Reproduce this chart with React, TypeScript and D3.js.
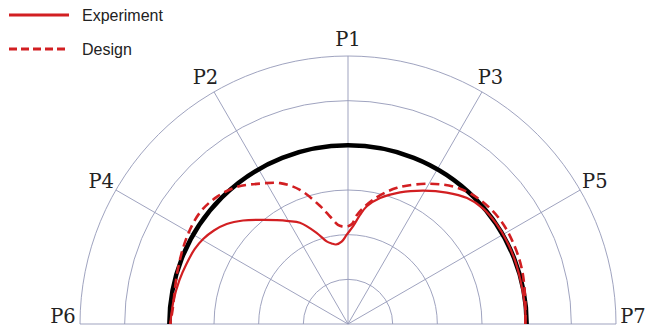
import React from "react";
import * as d3 from "d3";

const W = 648;
const H = 328;

// Ring values (radial units) and spoke angles (degrees, counter-clockwise from P7)
const ringValues = [1, 2, 3, 4, 5, 6];
const spokeAngles = [0, 30, 60, 90, 120, 150, 180];
const spokeLabels = ["P7", "P5", "P3", "P1", "P2", "P4", "P6"];

// Reference (black) circle radius
const referenceRadius = 4;

// Experiment (solid red)
const expAngles = [0, 4.5, 12.1, 21, 27.9, 34.1, 40.5, 46.6, 53.1, 60.5, 68.4, 75.7, 80.9, 83.7, 86.9, 90.8, 94.4, 98.6, 101.5, 104.5, 109, 115.4, 120, 124.5, 130.2, 135.4, 140.5, 145.1, 149.6, 154, 159.8, 165.4, 172.2, 180];
const expR = [3.97, 3.98, 3.98, 4.0, 4.01, 4.01, 3.98, 3.88, 3.68, 3.43, 3.17, 2.91, 2.67, 2.46, 2.2, 2.0, 1.85, 1.8, 1.84, 1.91, 2.16, 2.51, 2.66, 2.82, 3.05, 3.3, 3.52, 3.66, 3.76, 3.82, 3.86, 3.9, 3.94, 3.98];

// Design (dashed red)
const designAngles = [0, 6.8, 17.2, 26.1, 34.4, 43.2, 51.3, 59.6, 70.2, 78.6, 85.3, 87.7, 90, 93.5, 95.8, 99.5, 103.4, 109.7, 115.7, 122.1, 129, 135.9, 143.1, 151.6, 162.4, 175.4, 180];
const designR = [3.97, 4.0, 4.08, 4.12, 4.13, 4.06, 3.91, 3.64, 3.24, 2.84, 2.45, 2.24, 2.19, 2.19, 2.23, 2.44, 2.72, 3.19, 3.5, 3.71, 3.95, 4.09, 4.15, 4.1, 4.0, 3.94, 3.98];

const legendNames = ["Experiment", "Design"];

const RED = "#d21f22";
const GRID = "#9498b8";

export default function App() {
  const cx = 348;
  const cy = 324;
  const rScale = d3.scaleLinear().domain([0, 6]).range([0, 268]);
  const toRad = (deg: number) => Math.PI / 2 - (deg * Math.PI) / 180;

  const radial = d3
    .lineRadial<[number, number]>()
    .angle((d) => toRad(d[0]))
    .radius((d) => rScale(d[1]))
    .curve(d3.curveCatmullRom.alpha(0.5));

  const expPath = radial(expAngles.map((a, i) => [a, expR[i]] as [number, number])) || "";
  const designPath = radial(designAngles.map((a, i) => [a, designR[i]] as [number, number])) || "";

  const ringPath = (v: number) => {
    const p = d3.path();
    const r = rScale(v);
    p.moveTo(-r, 0);
    p.arc(0, 0, r, Math.PI, 2 * Math.PI);
    return p.toString();
  };

  const labelR = 285;

  return (
    <svg width={W} height={H} style={{ position: "absolute", left: 0, top: 0, background: "#fff" }}>
      <g transform={`translate(${cx},${cy})`}>
        {ringValues.map((v) => (
          <path key={v} d={ringPath(v)} fill="none" stroke={GRID} strokeWidth={0.9} />
        ))}
        {spokeAngles.map((a) => {
          const t = (a * Math.PI) / 180;
          return (
            <line
              key={a}
              x1={0}
              y1={0}
              x2={rScale(6) * Math.cos(t)}
              y2={-rScale(6) * Math.sin(t)}
              stroke={GRID}
              strokeWidth={0.9}
            />
          );
        })}
        {spokeAngles.map((a, i) => {
          const t = (a * Math.PI) / 180;
          const horiz = a === 0 || a === 180;
          const x = labelR * Math.cos(t);
          const y = horiz ? -8 : -labelR * Math.sin(t);
          return (
            <text
              key={a}
              x={x}
              y={y}
              textAnchor="middle"
              dominantBaseline="central"
              fontFamily="'DejaVu Serif', serif"
              fontSize={19.5}
              fill="#222"
            >
              {spokeLabels[i]}
            </text>
          );
        })}
        <path d={ringPath(referenceRadius)} fill="none" stroke="#000" strokeWidth={4.5} />
        <path d={designPath} fill="none" stroke={RED} strokeWidth={2.6} strokeDasharray="9,5" />
        <path d={expPath} fill="none" stroke={RED} strokeWidth={2.2} />
      </g>
      <g>
        <line x1={9} x2={69} y1={15} y2={15} stroke={RED} strokeWidth={3} />
        <text x={82} y={21} fontFamily="'Liberation Sans', Arial, sans-serif" fontSize={16} fill="#222">
          {legendNames[0]}
        </text>
        <line x1={9} x2={69} y1={49} y2={49} stroke={RED} strokeWidth={3} strokeDasharray="8,4" />
        <text x={82} y={55} fontFamily="'Liberation Sans', Arial, sans-serif" fontSize={16} fill="#222">
          {legendNames[1]}
        </text>
      </g>
    </svg>
  );
}
